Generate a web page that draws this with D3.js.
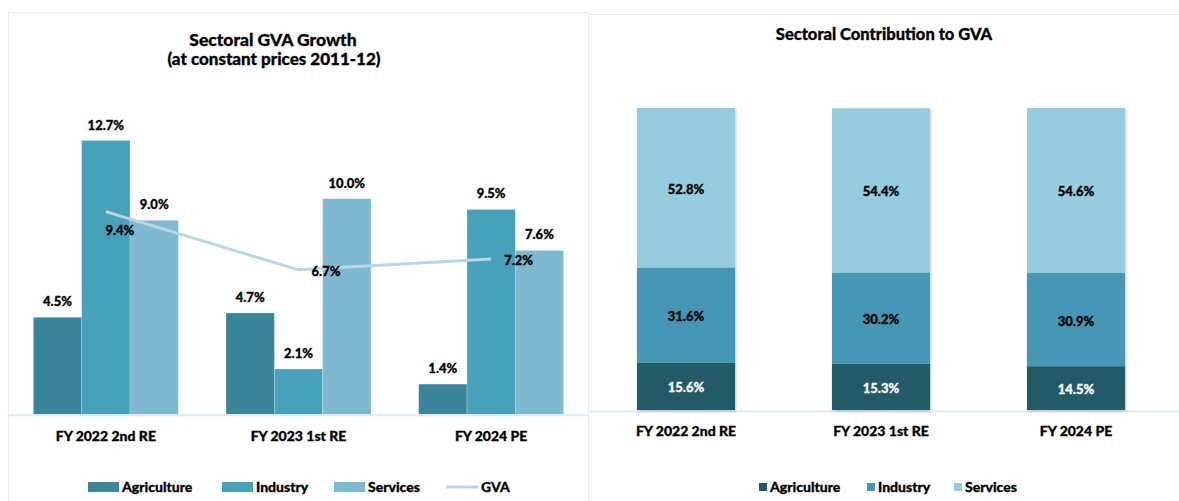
<!DOCTYPE html>
<html>
<head>
<meta charset="utf-8">
<script src="https://cdn.jsdelivr.net/npm/d3@7"></script>
<style>
  body { margin: 0; background: #fff; }
  text { font-family: Lato, "Open Sans", sans-serif; font-weight: 900; fill: #000; stroke: #000; stroke-width: 0.3px; }
</style>
</head>
<body>
<svg id="chart" width="1179" height="501"></svg>
<script>
// data
var years = ["FY 2022 2nd RE", "FY 2023 1st RE", "FY 2024 PE"];
var sectors = ["Agriculture", "Industry", "Services"];
var growthAgri = [4.5, 4.7, 1.4];
var growthInd = [12.7, 2.1, 9.5];
var growthServ = [9.0, 10.0, 7.6];
var growthGVA = [9.4, 6.7, 7.2];
var shareAgri = [15.6, 15.3, 14.5];
var shareInd = [31.6, 30.2, 30.9];
var shareServ = [52.8, 54.4, 54.6];

var leftColors = ["#3a8599", "#48a1ba", "#7eb9cf"];
var gvaColor = "#b6d8e4";
var rightColors = ["#235a68", "#4497b5", "#96ccde"];

var svg = d3.select("#chart");

// drop shadow for the stacked bars
var defs = svg.append("defs");
var f = defs.append("filter").attr("id", "shadow").attr("x", "-10%").attr("y", "-10%").attr("width", "120%").attr("height", "120%");
f.append("feDropShadow").attr("dx", 1).attr("dy", 1).attr("stdDeviation", 1).attr("flood-color", "#000").attr("flood-opacity", 0.25);

// panel frames
svg.append("rect").attr("x", 8.5).attr("y", 12.5).attr("width", 580).attr("height", 500)
  .attr("fill", "none").attr("stroke", "#ececec");
svg.append("line").attr("x1", 589).attr("x2", 1179).attr("y1", 14.5).attr("y2", 14.5)
  .attr("stroke", "#ececec");

// ---------- left chart: growth ----------
var growth = years.map(function(y, i) {
  return {year: y, values: [growthAgri[i], growthInd[i], growthServ[i]], gva: growthGVA[i]};
});

var x0 = d3.scaleBand().domain(years).range([9.5, 587.5]).paddingInner(0.2475).paddingOuter(0.124);
var x1 = d3.scaleBand().domain(sectors).range([0, x0.bandwidth()]);
var yL = d3.scaleLinear().domain([0, 12.7]).range([414.3, 140.5]);

var left = svg.append("g");

left.append("text").attr("x", 273).attr("y", 46).attr("text-anchor", "middle")
  .style("font-size", "17.5px").text("Sectoral GVA Growth");
left.append("text").attr("x", 274).attr("y", 65).attr("text-anchor", "middle")
  .style("font-size", "17px").text("(at constant prices 2011-12)");

var groups = left.selectAll("g.grp").data(growth).enter().append("g")
  .attr("class", "grp")
  .attr("transform", function(d) { return "translate(" + x0(d.year) + ",0)"; });

groups.selectAll("rect").data(function(d) { return d.values; }).enter().append("rect")
  .attr("x", function(d, i) { return x1(sectors[i]); })
  .attr("y", function(d) { return yL(d); })
  .attr("width", x1.bandwidth())
  .attr("height", function(d) { return yL(0) - yL(d); })
  .attr("fill", function(d, i) { return leftColors[i]; })
  .attr("stroke", "#ffffff").attr("stroke-opacity", 0.35).attr("stroke-width", 0.6);

groups.selectAll("text.val").data(function(d) { return d.values; }).enter().append("text")
  .attr("class", "val")
  .attr("x", function(d, i) { return x1(sectors[i]) + x1.bandwidth() / 2; })
  .attr("y", function(d) { return yL(d) - 11; })
  .attr("text-anchor", "middle")
  .style("font-size", "13px")
  .text(function(d) { return d.toFixed(1) + "%"; });

// x axis line
left.append("line").attr("x1", 8).attr("x2", 589).attr("y1", yL(0) + 1).attr("y2", yL(0) + 1)
  .attr("stroke", "#dde9f5").attr("stroke-width", 2);

// GVA line
var gvaLine = d3.line()
  .x(function(d) { return x0(d.year) + x0.bandwidth() / 2; })
  .y(function(d) { return yL(d.gva); });
left.append("path").datum(growth).attr("d", gvaLine)
  .attr("fill", "none").attr("stroke", gvaColor).attr("stroke-width", 3);

var gvaLabelPos = ["below", "right", "right"];
left.selectAll("text.gva").data(growth).enter().append("text")
  .attr("class", "gva")
  .attr("x", function(d, i) { return x0(d.year) + x0.bandwidth() / 2 + (gvaLabelPos[i] == "below" ? 14 : 13); })
  .attr("y", function(d, i) { return yL(d.gva) + (gvaLabelPos[i] == "below" ? 23 : 6); })
  .attr("text-anchor", function(d, i) { return gvaLabelPos[i] == "below" ? "middle" : "start"; })
  .style("font-size", "13px")
  .text(function(d) { return d.gva.toFixed(1) + "%"; });

left.selectAll("text.cat").data(years).enter().append("text")
  .attr("class", "cat")
  .attr("x", function(d) { return x0(d) + x0.bandwidth() / 2; })
  .attr("y", 441)
  .attr("text-anchor", "middle")
  .style("font-size", "14px")
  .text(function(d) { return d; });

// left legend
var legL = left.append("g");
var legLx = [88, 222, 334];
sectors.forEach(function(s, i) {
  legL.append("rect").attr("x", legLx[i]).attr("y", 482).attr("width", 31).attr("height", 10).attr("fill", leftColors[i]);
  legL.append("text").attr("x", legLx[i] + 34).attr("y", 492).style("font-size", "14px").text(s);
});
legL.append("line").attr("x1", 446).attr("x2", 478).attr("y1", 487).attr("y2", 487)
  .attr("stroke", gvaColor).attr("stroke-width", 3);
legL.append("text").attr("x", 481).attr("y", 492).style("font-size", "14px").text("GVA");

// ---------- right chart: contribution ----------
var shares = years.map(function(y, i) {
  return {year: y, Agriculture: shareAgri[i], Industry: shareInd[i], Services: shareServ[i]};
});
var stack = d3.stack().keys(sectors)(shares);

var xR = d3.scaleBand().domain(years).range([588.5, 1173.5]).paddingInner(0.497).paddingOuter(0.2485);
var yR = d3.scaleLinear().domain([0, 100]).range([410, 108]);

var right = svg.append("g");

right.append("text").attr("x", 884).attr("y", 40).attr("text-anchor", "middle")
  .style("font-size", "16.5px").text("Sectoral Contribution to GVA");

right.append("line").attr("x1", 589).attr("x2", 1179).attr("y1", yR(0) + 1.5).attr("y2", yR(0) + 1.5)
  .attr("stroke", "#dde9f5").attr("stroke-width", 2);

var bars = right.append("g").attr("filter", "url(#shadow)");
stack.forEach(function(layer, k) {
  bars.selectAll("rect.s" + k).data(layer).enter().append("rect")
    .attr("x", function(d) { return xR(d.data.year); })
    .attr("y", function(d) { return yR(d[1]); })
    .attr("width", xR.bandwidth())
    .attr("height", function(d) { return yR(d[0]) - yR(d[1]); })
    .attr("fill", rightColors[k]);
});

stack.forEach(function(layer, k) {
  right.selectAll("text.l" + k).data(layer).enter().append("text")
    .attr("x", function(d) { return xR(d.data.year) + xR.bandwidth() / 2; })
    .attr("y", function(d) { return (yR(d[0]) + yR(d[1])) / 2 + 6; })
    .attr("text-anchor", "middle")
    .style("font-size", "13px")
    .style("fill", k == 0 ? "#ffffff" : "#000000")
    .style("stroke", k == 0 ? "#ffffff" : "#000000")
    .text(function(d) { return d.data[sectors[k]].toFixed(1) + "%"; });
});

right.selectAll("text.cat").data(years).enter().append("text")
  .attr("x", function(d) { return xR(d) + xR.bandwidth() / 2; })
  .attr("y", 436)
  .attr("text-anchor", "middle")
  .style("font-size", "14px")
  .text(function(d) { return d; });

var legRx = [759, 867, 954];
sectors.forEach(function(s, i) {
  right.append("rect").attr("x", legRx[i]).attr("y", 483).attr("width", 8).attr("height", 8).attr("fill", rightColors[i]);
  right.append("text").attr("x", legRx[i] + 11).attr("y", 492).style("font-size", "14px").text(s);
});
</script>
</body>
</html>
